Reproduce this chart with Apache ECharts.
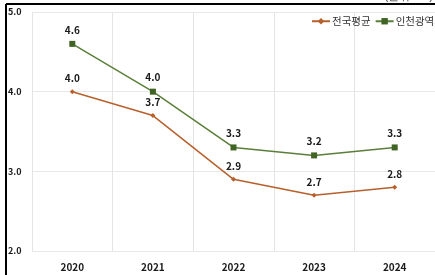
<!DOCTYPE html>
<html lang="ko">
<head>
<meta charset="UTF-8">
<title>chart</title>
<script src="https://cdn.jsdelivr.net/npm/echarts@6/dist/echarts.min.js"></script>
<style>
  html, body { margin: 0; padding: 0; background: #fff; }
  #chart { width: 435px; height: 275px; }
</style>
</head>
<body>
<div id="chart"></div>
<script>
var years = ['2020', '2021', '2022', '2023', '2024'];
var national = [4.0, 3.7, 2.9, 2.7, 2.8];
var incheon = [4.6, 4.0, 3.3, 3.2, 3.3];
var seriesNames = ['전국평균', '인천광역시'];
var yTicks = [2, 3, 4, 5];

var font = '"Noto Sans CJK KR", "Noto Sans", sans-serif';

var chart = echarts.init(document.getElementById('chart'));
chart.setOption({
    animation: false,
    textStyle: { fontFamily: font },
    grid: { left: 32, right: -10, top: 12, bottom: 24 },
    legend: {
        orient: 'horizontal',
        left: 306, top: 11, width: 220,
        itemWidth: 18, itemHeight: 8, itemGap: 4,
        textStyle: { fontSize: 10.5, color: '#333', fontFamily: font, padding: [0, 0, 0, -3] },
        data: seriesNames
    },
    graphic: [
        { type: 'line', shape: { x1: 6, y1: 4, x2: 435, y2: 4 }, style: { stroke: '#000', lineWidth: 2 } },
        { type: 'line', shape: { x1: 6, y1: 4, x2: 6, y2: 275 }, style: { stroke: '#000', lineWidth: 2 } },
        { type: 'text', right: 2, top: -9, style: { text: '(단위 : %)', fontSize: 11, fill: '#333', font: '11px ' + font } }
    ],
    xAxis: {
        type: 'category',
        data: years,
        boundaryGap: true,
        axisLine: { show: false },
        axisTick: { show: false },
        splitLine: { show: true, lineStyle: { color: '#e4e4e4' } },
        axisLabel: { fontSize: 10, fontWeight: 'bold', color: '#1a1a1a', margin: 11 }
    },
    yAxis: {
        type: 'value',
        min: yTicks[0], max: yTicks[yTicks.length - 1], interval: 1,
        axisLine: { show: false },
        axisTick: { show: false },
        splitLine: { lineStyle: { color: '#e8e8e8' } },
        axisLabel: {
            fontSize: 9, fontWeight: 'bold', color: '#1a1a1a', align: 'left', margin: 24,
            formatter: function (v) { return v.toFixed(1); }
        }
    },
    series: [
        {
            name: seriesNames[0], type: 'line', data: national,
            symbol: 'diamond', symbolSize: 5,
            lineStyle: { color: '#b8602c', width: 1.5 },
            itemStyle: { color: '#b8602c' },
            label: { show: true, position: 'top', distance: 6, fontSize: 10, fontWeight: 'bold', color: '#1a1a1a',
                formatter: function (p) { return p.value.toFixed(1); } }
        },
        {
            name: seriesNames[1], type: 'line', data: incheon,
            symbol: 'rect', symbolSize: 6,
            lineStyle: { color: '#5a7f3a', width: 1.5 },
            itemStyle: { color: '#3f6424' },
            label: { show: true, position: 'top', distance: 6, fontSize: 10, fontWeight: 'bold', color: '#1a1a1a',
                formatter: function (p) { return p.value.toFixed(1); } }
        }
    ]
});
</script>
</body>
</html>
